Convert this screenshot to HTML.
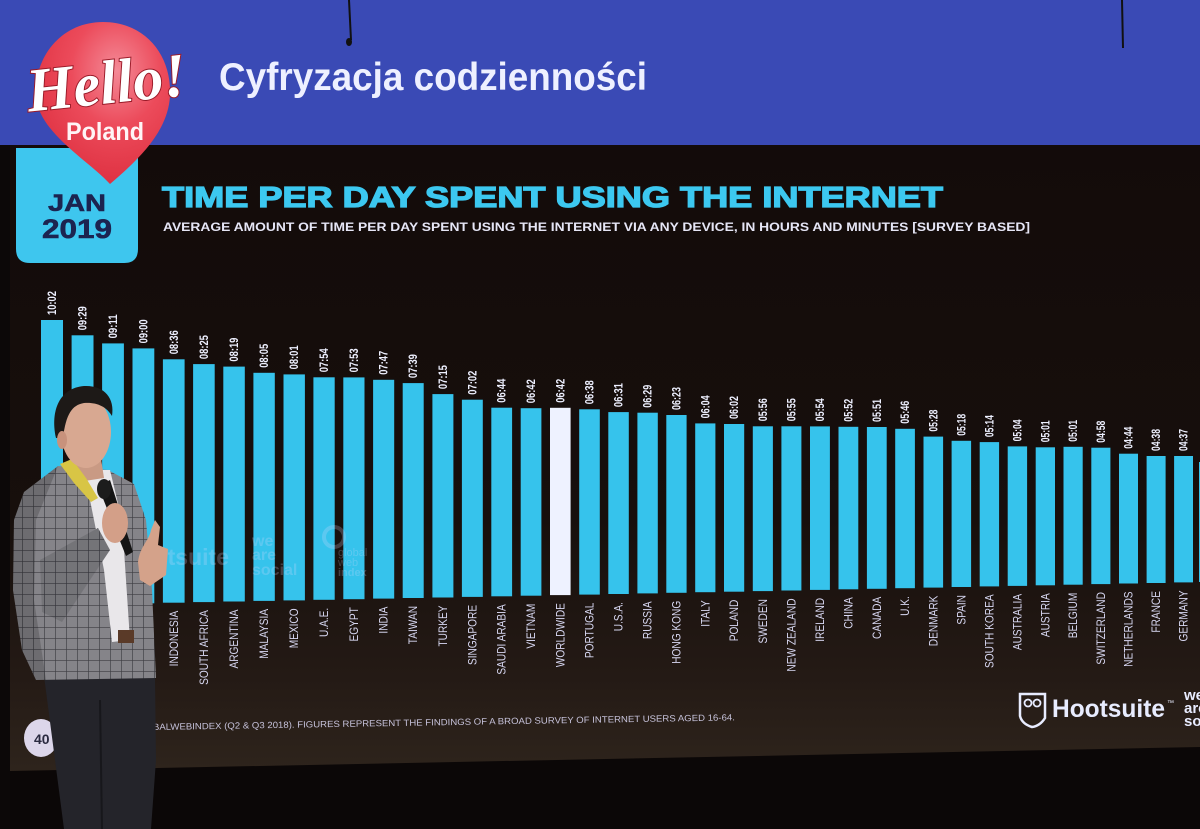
<!DOCTYPE html>
<html><head><meta charset="utf-8">
<style>
html,body{margin:0;padding:0;background:#0b0707;}
svg{display:block}
.v{font-family:"Liberation Sans",sans-serif;font-weight:bold;font-size:12px;fill:#eef0ff}
.c{font-family:"Liberation Sans",sans-serif;font-size:11.5px;fill:#d8d8f2;text-anchor:end}
.b{fill:#36c3ec}
</style></head><body>
<svg width="1200" height="829" viewBox="0 0 1200 829" xmlns="http://www.w3.org/2000/svg">
<defs>
 <linearGradient id="scr" x1="0" y1="145" x2="0" y2="771" gradientUnits="userSpaceOnUse">
  <stop offset="0" stop-color="#130b0a"/>
  <stop offset="0.6" stop-color="#170f0c"/>
  <stop offset="0.85" stop-color="#241a15"/>
  <stop offset="1" stop-color="#2e241c"/>
 </linearGradient>
 <radialGradient id="bal" cx="0.6" cy="0.3" r="0.75">
  <stop offset="0" stop-color="#f48a97"/>
  <stop offset="0.45" stop-color="#ec4b5b"/>
  <stop offset="1" stop-color="#dd2e3e"/>
 </radialGradient>
 <pattern id="check" width="11" height="11" patternUnits="userSpaceOnUse">
  <rect width="11" height="11" fill="#858489"/>
  <path d="M0 0H11M0 0V11" stroke="#3c3c42" stroke-width="1.3"/>
 </pattern>
</defs>

<rect width="1200" height="829" fill="#0b0707"/>
<path d="M10 145 L1200 145 L1200 747 L10 771 Z" fill="url(#scr)"/>
<rect x="0" y="0" width="1200" height="145" fill="#3a4ab5"/>
<path d="M349 0 L351 40" stroke="#111" stroke-width="2"/>
<ellipse cx="349" cy="42" rx="3" ry="4" fill="#111"/>
<path d="M1122 0 L1123 48" stroke="#111" stroke-width="2"/>

<text x="219" y="90" font-family="Liberation Sans,sans-serif" font-weight="bold" font-size="39" fill="#eef0ff" textLength="428" lengthAdjust="spacingAndGlyphs">Cyfryzacja codzienności</text>

<path d="M16 148 H138 V249 Q138 263 124 263 H30 Q16 263 16 249 Z" fill="#3ec6ee"/>
<text x="77" y="211" text-anchor="middle" font-family="Liberation Sans,sans-serif" font-weight="bold" font-size="24" fill="#1c2450" stroke="#1c2450" stroke-width="0.6" textLength="58" lengthAdjust="spacingAndGlyphs">JAN</text>
<text x="77" y="238" text-anchor="middle" font-family="Liberation Sans,sans-serif" font-weight="bold" font-size="27" fill="#1c2450" stroke="#1c2450" stroke-width="0.6" textLength="70" lengthAdjust="spacingAndGlyphs">2019</text>

<path d="M103 22 C146 22 172 56 170 96 C168 132 138 160 110 184 C88 160 38 132 36 96 C34 56 62 22 103 22 Z" fill="url(#bal)"/>
<text x="26" y="104" transform="rotate(-6 100 80)" font-family="Liberation Serif,serif" font-style="italic" font-weight="bold" font-size="62" fill="#ffffff" stroke="#9a1a28" stroke-width="2" paint-order="stroke" textLength="160" lengthAdjust="spacingAndGlyphs">Hello!</text>
<text x="66" y="140" font-family="Liberation Sans,sans-serif" font-weight="bold" font-size="25" fill="#fff4f6" textLength="78" lengthAdjust="spacingAndGlyphs">Poland</text>

<text x="162" y="207" font-family="Liberation Sans,sans-serif" font-weight="bold" font-size="29" fill="#3cc8f0" stroke="#3cc8f0" stroke-width="1.3" textLength="781" lengthAdjust="spacingAndGlyphs">TIME PER DAY SPENT USING THE INTERNET</text>
<text x="163" y="231" font-family="Liberation Sans,sans-serif" font-weight="bold" font-size="11.5" fill="#e6e6f6" textLength="867" lengthAdjust="spacingAndGlyphs">AVERAGE AMOUNT OF TIME PER DAY SPENT USING THE INTERNET VIA ANY DEVICE, IN HOURS AND MINUTES [SURVEY BASED]</text>

<rect class="b" x="41" y="320.0" width="22" height="285.0"/>
<rect class="b" x="71.6" y="335.3" width="21.9" height="269.1"/>
<rect class="b" x="102.1" y="343.4" width="21.8" height="260.4"/>
<rect class="b" x="132.5" y="348.4" width="21.8" height="254.9"/>
<rect class="b" x="162.9" y="359.3" width="21.7" height="243.4"/>
<rect class="b" x="193.1" y="364.1" width="21.6" height="238.0"/>
<rect class="b" x="223.3" y="366.6" width="21.5" height="234.9"/>
<rect class="b" x="253.4" y="372.8" width="21.4" height="228.1"/>
<rect class="b" x="283.5" y="374.4" width="21.4" height="226.0"/>
<rect class="b" x="313.4" y="377.3" width="21.3" height="222.5"/>
<rect class="b" x="343.3" y="377.4" width="21.2" height="221.8"/>
<rect class="b" x="373.1" y="379.8" width="21.1" height="218.8"/>
<rect class="b" x="402.7" y="383.1" width="21.0" height="214.9"/>
<rect class="b" x="432.4" y="394.1" width="21.0" height="203.4"/>
<rect class="b" x="461.9" y="399.7" width="20.9" height="197.2"/>
<rect class="b" x="491.3" y="407.7" width="20.8" height="188.6"/>
<rect class="b" x="520.7" y="408.2" width="20.7" height="187.5"/>
<rect x="550.0" y="407.8" width="20.6" height="187.3" fill="#eef2ff"/>
<rect class="b" x="579.2" y="409.3" width="20.6" height="185.3"/>
<rect class="b" x="608.3" y="412.1" width="20.5" height="181.9"/>
<rect class="b" x="637.4" y="412.7" width="20.4" height="180.7"/>
<rect class="b" x="666.3" y="415.0" width="20.3" height="177.8"/>
<rect class="b" x="695.2" y="423.4" width="20.2" height="168.8"/>
<rect class="b" x="724.0" y="424.0" width="20.2" height="167.7"/>
<rect class="b" x="752.8" y="426.3" width="20.1" height="164.8"/>
<rect class="b" x="781.4" y="426.3" width="20.0" height="164.2"/>
<rect class="b" x="810.0" y="426.4" width="19.9" height="163.5"/>
<rect class="b" x="838.5" y="426.8" width="19.8" height="162.5"/>
<rect class="b" x="866.9" y="427.0" width="19.8" height="161.8"/>
<rect class="b" x="895.2" y="428.8" width="19.7" height="159.4"/>
<rect class="b" x="923.5" y="436.6" width="19.6" height="151.0"/>
<rect class="b" x="951.6" y="440.8" width="19.5" height="146.2"/>
<rect class="b" x="979.7" y="442.1" width="19.4" height="144.3"/>
<rect class="b" x="1007.7" y="446.4" width="19.4" height="139.5"/>
<rect class="b" x="1035.7" y="447.3" width="19.3" height="138.0"/>
<rect class="b" x="1063.5" y="446.8" width="19.2" height="137.9"/>
<rect class="b" x="1091.3" y="447.7" width="19.1" height="136.4"/>
<rect class="b" x="1119.0" y="453.7" width="19.0" height="129.8"/>
<rect class="b" x="1146.6" y="456.0" width="19.0" height="127.0"/>
<rect class="b" x="1174.1" y="456.0" width="18.9" height="126.4"/>
<rect class="b" x="1199" y="462" width="18" height="120"/>

<g class="v">
<text transform="translate(56.0,315.0) rotate(-90)" textLength="24" lengthAdjust="spacingAndGlyphs">10:02</text>
<text transform="translate(86.55,330.3) rotate(-90)" textLength="24" lengthAdjust="spacingAndGlyphs">09:29</text>
<text transform="translate(117.0,338.4) rotate(-90)" textLength="24" lengthAdjust="spacingAndGlyphs">09:11</text>
<text transform="translate(147.4,343.4) rotate(-90)" textLength="24" lengthAdjust="spacingAndGlyphs">09:00</text>
<text transform="translate(177.75,354.3) rotate(-90)" textLength="24" lengthAdjust="spacingAndGlyphs">08:36</text>
<text transform="translate(207.9,359.1) rotate(-90)" textLength="24" lengthAdjust="spacingAndGlyphs">08:25</text>
<text transform="translate(238.05,361.6) rotate(-90)" textLength="24" lengthAdjust="spacingAndGlyphs">08:19</text>
<text transform="translate(268.1,367.8) rotate(-90)" textLength="24" lengthAdjust="spacingAndGlyphs">08:05</text>
<text transform="translate(298.2,369.4) rotate(-90)" textLength="24" lengthAdjust="spacingAndGlyphs">08:01</text>
<text transform="translate(328.05,372.3) rotate(-90)" textLength="24" lengthAdjust="spacingAndGlyphs">07:54</text>
<text transform="translate(357.9,372.4) rotate(-90)" textLength="24" lengthAdjust="spacingAndGlyphs">07:53</text>
<text transform="translate(387.65,374.8) rotate(-90)" textLength="24" lengthAdjust="spacingAndGlyphs">07:47</text>
<text transform="translate(417.2,378.1) rotate(-90)" textLength="24" lengthAdjust="spacingAndGlyphs">07:39</text>
<text transform="translate(446.9,389.1) rotate(-90)" textLength="24" lengthAdjust="spacingAndGlyphs">07:15</text>
<text transform="translate(476.35,394.7) rotate(-90)" textLength="24" lengthAdjust="spacingAndGlyphs">07:02</text>
<text transform="translate(505.7,402.7) rotate(-90)" textLength="24" lengthAdjust="spacingAndGlyphs">06:44</text>
<text transform="translate(535.05,403.2) rotate(-90)" textLength="24" lengthAdjust="spacingAndGlyphs">06:42</text>
<text transform="translate(564.3,402.8) rotate(-90)" textLength="24" lengthAdjust="spacingAndGlyphs">06:42</text>
<text transform="translate(593.5,404.3) rotate(-90)" textLength="24" lengthAdjust="spacingAndGlyphs">06:38</text>
<text transform="translate(622.55,407.1) rotate(-90)" textLength="24" lengthAdjust="spacingAndGlyphs">06:31</text>
<text transform="translate(651.6,407.7) rotate(-90)" textLength="23" lengthAdjust="spacingAndGlyphs">06:29</text>
<text transform="translate(680.45,410.0) rotate(-90)" textLength="23" lengthAdjust="spacingAndGlyphs">06:23</text>
<text transform="translate(709.3,418.4) rotate(-90)" textLength="23" lengthAdjust="spacingAndGlyphs">06:04</text>
<text transform="translate(738.1,419.0) rotate(-90)" textLength="23" lengthAdjust="spacingAndGlyphs">06:02</text>
<text transform="translate(766.85,421.3) rotate(-90)" textLength="23" lengthAdjust="spacingAndGlyphs">05:56</text>
<text transform="translate(795.4,421.3) rotate(-90)" textLength="23" lengthAdjust="spacingAndGlyphs">05:55</text>
<text transform="translate(823.95,421.4) rotate(-90)" textLength="23" lengthAdjust="spacingAndGlyphs">05:54</text>
<text transform="translate(852.4,421.8) rotate(-90)" textLength="23" lengthAdjust="spacingAndGlyphs">05:52</text>
<text transform="translate(880.8,422.0) rotate(-90)" textLength="23" lengthAdjust="spacingAndGlyphs">05:51</text>
<text transform="translate(909.05,423.8) rotate(-90)" textLength="23" lengthAdjust="spacingAndGlyphs">05:46</text>
<text transform="translate(937.3,431.6) rotate(-90)" textLength="22" lengthAdjust="spacingAndGlyphs">05:28</text>
<text transform="translate(965.35,435.8) rotate(-90)" textLength="22" lengthAdjust="spacingAndGlyphs">05:18</text>
<text transform="translate(993.4,437.1) rotate(-90)" textLength="22" lengthAdjust="spacingAndGlyphs">05:14</text>
<text transform="translate(1021.4,441.4) rotate(-90)" textLength="22" lengthAdjust="spacingAndGlyphs">05:04</text>
<text transform="translate(1049.35,442.3) rotate(-90)" textLength="22" lengthAdjust="spacingAndGlyphs">05:01</text>
<text transform="translate(1077.1,441.8) rotate(-90)" textLength="22" lengthAdjust="spacingAndGlyphs">05:01</text>
<text transform="translate(1104.85,442.7) rotate(-90)" textLength="22" lengthAdjust="spacingAndGlyphs">04:58</text>
<text transform="translate(1132.5,448.7) rotate(-90)" textLength="22" lengthAdjust="spacingAndGlyphs">04:44</text>
<text transform="translate(1160.1,451.0) rotate(-90)" textLength="22" lengthAdjust="spacingAndGlyphs">04:38</text>
<text transform="translate(1187.55,451.0) rotate(-90)" textLength="22" lengthAdjust="spacingAndGlyphs">04:37</text>
</g>

<g class="c">
<text transform="translate(56.0,613.0) rotate(-90) scale(0.88,1)">PHILIPPINES</text>
<text transform="translate(86.55,612.4) rotate(-90) scale(0.88,1)">BRAZIL</text>
<text transform="translate(117.0,611.8) rotate(-90) scale(0.88,1)">THAILAND</text>
<text transform="translate(147.4,611.3) rotate(-90) scale(0.88,1)">COLOMBIA</text>
<text transform="translate(177.75,610.7) rotate(-90) scale(0.88,1)">INDONESIA</text>
<text transform="translate(207.9,610.1) rotate(-90) scale(0.88,1)">SOUTH AFRICA</text>
<text transform="translate(238.05,609.5) rotate(-90) scale(0.88,1)">ARGENTINA</text>
<text transform="translate(268.1,608.9) rotate(-90) scale(0.88,1)">MALAYSIA</text>
<text transform="translate(298.2,608.4) rotate(-90) scale(0.88,1)">MEXICO</text>
<text transform="translate(328.05,607.8) rotate(-90) scale(0.88,1)">U.A.E.</text>
<text transform="translate(357.9,607.2) rotate(-90) scale(0.88,1)">EGYPT</text>
<text transform="translate(387.65,606.6) rotate(-90) scale(0.88,1)">INDIA</text>
<text transform="translate(417.2,606.0) rotate(-90) scale(0.88,1)">TAIWAN</text>
<text transform="translate(446.9,605.5) rotate(-90) scale(0.88,1)">TURKEY</text>
<text transform="translate(476.35,604.9) rotate(-90) scale(0.88,1)">SINGAPORE</text>
<text transform="translate(505.7,604.3) rotate(-90) scale(0.88,1)">SAUDI ARABIA</text>
<text transform="translate(535.05,603.7) rotate(-90) scale(0.88,1)">VIETNAM</text>
<text transform="translate(564.3,603.1) rotate(-90) scale(0.88,1)">WORLDWIDE</text>
<text transform="translate(593.5,602.6) rotate(-90) scale(0.88,1)">PORTUGAL</text>
<text transform="translate(622.55,602.0) rotate(-90) scale(0.88,1)">U.S.A.</text>
<text transform="translate(651.6,601.4) rotate(-90) scale(0.88,1)">RUSSIA</text>
<text transform="translate(680.45,600.8) rotate(-90) scale(0.88,1)">HONG KONG</text>
<text transform="translate(709.3,600.2) rotate(-90) scale(0.88,1)">ITALY</text>
<text transform="translate(738.1,599.7) rotate(-90) scale(0.88,1)">POLAND</text>
<text transform="translate(766.85,599.1) rotate(-90) scale(0.88,1)">SWEDEN</text>
<text transform="translate(795.4,598.5) rotate(-90) scale(0.88,1)">NEW ZEALAND</text>
<text transform="translate(823.95,597.9) rotate(-90) scale(0.88,1)">IRELAND</text>
<text transform="translate(852.4,597.3) rotate(-90) scale(0.88,1)">CHINA</text>
<text transform="translate(880.8,596.8) rotate(-90) scale(0.88,1)">CANADA</text>
<text transform="translate(909.05,596.2) rotate(-90) scale(0.88,1)">U.K.</text>
<text transform="translate(937.3,595.6) rotate(-90) scale(0.88,1)">DENMARK</text>
<text transform="translate(965.35,595.0) rotate(-90) scale(0.88,1)">SPAIN</text>
<text transform="translate(993.4,594.4) rotate(-90) scale(0.88,1)">SOUTH KOREA</text>
<text transform="translate(1021.4,593.9) rotate(-90) scale(0.88,1)">AUSTRALIA</text>
<text transform="translate(1049.35,593.3) rotate(-90) scale(0.88,1)">AUSTRIA</text>
<text transform="translate(1077.1,592.7) rotate(-90) scale(0.88,1)">BELGIUM</text>
<text transform="translate(1104.85,592.1) rotate(-90) scale(0.88,1)">SWITZERLAND</text>
<text transform="translate(1132.5,591.5) rotate(-90) scale(0.88,1)">NETHERLANDS</text>
<text transform="translate(1160.1,591.0) rotate(-90) scale(0.88,1)">FRANCE</text>
<text transform="translate(1187.55,590.4) rotate(-90) scale(0.88,1)">GERMANY</text>
</g>

<g fill="#e4dcff" opacity="0.22" font-family="Liberation Sans,sans-serif" font-weight="bold">
 <text x="229" y="565" text-anchor="end" font-size="23">Hootsuite</text>
 <text x="252" y="546" font-size="16">we</text>
 <text x="252" y="560" font-size="16">are</text>
 <text x="252" y="575" font-size="16">social</text>
 <circle cx="334" cy="537" r="10" fill="none" stroke="#e4dcff" stroke-width="4"/>
 <text x="338" y="556" font-size="11" font-weight="normal">global</text>
 <text x="338" y="566" font-size="11" font-weight="normal">web</text>
 <text x="338" y="576" font-size="11">index</text>
</g>

<ellipse cx="41" cy="738" rx="17" ry="19" fill="#dcd6ea"/>
<text x="34" y="744" font-family="Liberation Sans,sans-serif" font-weight="bold" font-size="14" fill="#2a2a40">40</text>
<text x="153" y="730" transform="rotate(-0.95 153 730)" font-family="Liberation Sans,sans-serif" font-size="9" fill="#c6c2da" textLength="582" lengthAdjust="spacingAndGlyphs">BALWEBINDEX (Q2 &amp; Q3 2018). FIGURES REPRESENT THE FINDINGS OF A BROAD SURVEY OF INTERNET USERS AGED 16-64.</text>

<path d="M1020 694 H1045 V718 Q1040 726 1032 727 Q1022 724 1020 716 Z" fill="none" stroke="#e8ecff" stroke-width="2.5"/>
<circle cx="1028" cy="703" r="3.5" fill="none" stroke="#e8ecff" stroke-width="1.8"/>
<circle cx="1037" cy="703" r="3.5" fill="none" stroke="#e8ecff" stroke-width="1.8"/>
<text x="1052" y="717" font-family="Liberation Sans,sans-serif" font-weight="bold" font-size="25" fill="#e8ecff" textLength="113" lengthAdjust="spacingAndGlyphs">Hootsuite</text>
<text x="1167" y="705" font-family="Liberation Sans,sans-serif" font-size="7" fill="#e8ecff">™</text>
<g font-family="Liberation Sans,sans-serif" font-weight="bold" font-size="15" fill="#e8ecff">
 <text x="1184" y="700">we</text>
 <text x="1184" y="713">are</text>
 <text x="1184" y="726">social</text>
</g>

<rect x="0" y="145" width="10" height="684" fill="#0c0808"/>

<g>
 <path d="M44 676 L155 676 L156 760 L151 829 L64 829 L55 760 Z" fill="#24242a"/>
 <path d="M100 700 L102 829" stroke="#17171b" stroke-width="2"/>
 <path d="M58 466 L108 470 L134 484 L146 520 L152 590 L156 678 L36 680 L22 650 L13 590 L14 520 L24 492 Z" fill="url(#check)"/>
 <path d="M58 466 L24 492 L14 520 L13 590 L22 650 L36 680 L46 680 L34 600 L36 520 Z" fill="#000" opacity="0.18"/>
 <path d="M84 470 L110 470 L122 520 L130 640 L112 642 L104 570 Z" fill="#e9e7ea"/>
 <path d="M40 560 L98 528 L110 550 L62 622 L42 612 Z" fill="url(#check)"/>
 <path d="M40 560 L98 528 L110 550 L62 622 L42 612 Z" fill="#000" opacity="0.12"/>
 <path d="M72 452 L100 452 L104 478 L78 482 Z" fill="#c99a84"/>
 <path d="M60 464 L72 459 L86 478 L98 498 L91 502 L74 483 Z" fill="#d8c545"/>
 <ellipse cx="86" cy="432" rx="25" ry="36" fill="#d8a891"/>
 <path d="M56 438 C50 410 60 388 84 386 C104 385 115 398 112 416 C106 406 96 402 84 403 C72 405 66 414 63 438 Z" fill="#1d1917"/>
 <ellipse cx="62" cy="440" rx="5" ry="9" fill="#c8927c"/>
 <path d="M98 486 L110 480 L133 552 L126 556 Z" fill="#141414"/>
 <ellipse cx="104" cy="489" rx="7" ry="10" fill="#1c1c1c"/>
 <ellipse cx="115" cy="523" rx="13" ry="20" fill="#d39f88"/>
 <path d="M138 562 C140 546 149 541 151 530 L155 520 L160 527 L158 545 L168 549 L166 575 L150 586 L140 580 Z" fill="#d4a28a"/>
 <rect x="118" y="630" width="16" height="13" fill="#5a3a28"/>
</g>
</svg>
</body></html>
